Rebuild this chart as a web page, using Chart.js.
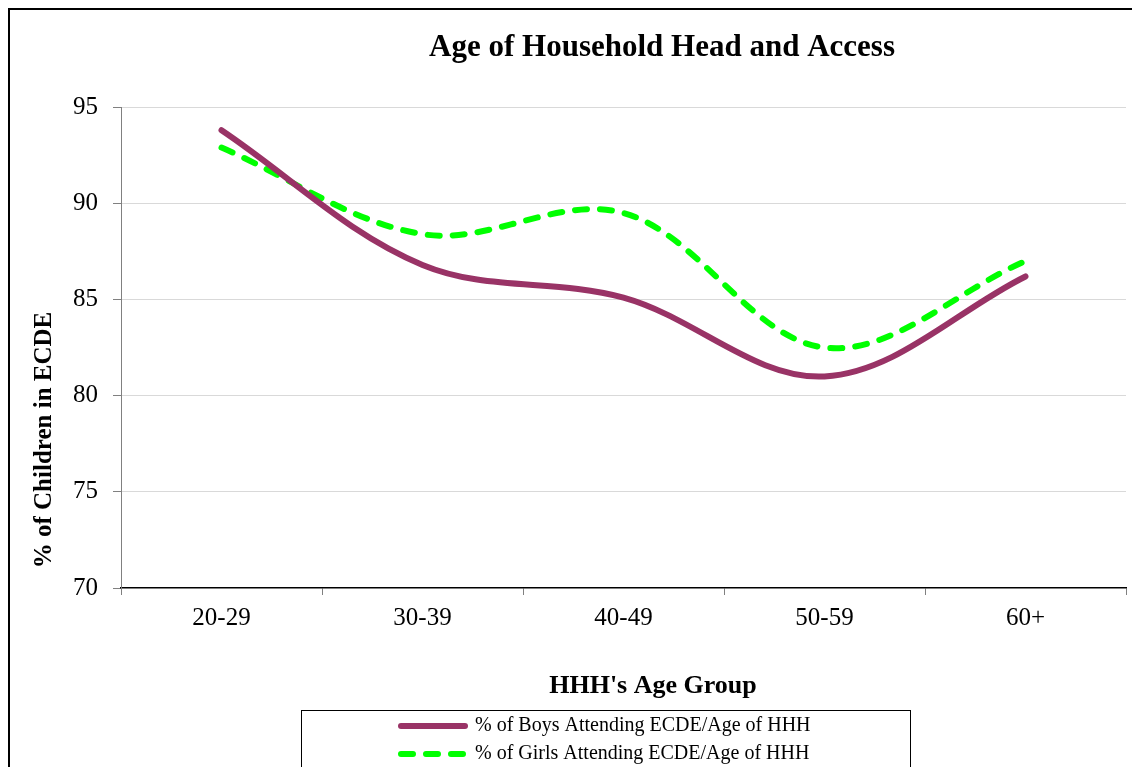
<!DOCTYPE html>
<html>
<head>
<meta charset="utf-8">
<title>Age of Household Head and Access</title>
<script src="https://cdn.jsdelivr.net/npm/chart.js@4.4.1/dist/chart.umd.min.js"></script>
<style>
  html, body { margin: 0; padding: 0; background: #fff; }
  .chart-box { position: relative; width: 1132px; height: 767px; }
</style>
</head>
<body>
<div class="chart-box">
  <canvas id="chart1"></canvas>
</div>
<script>
var ageGroups = ["20-29", "30-39", "40-49", "50-59", "60+"];
var boysValues = [93.8, 86.8, 85.1, 81.0, 86.2];
var girlsValues = [92.9, 88.4, 89.5, 82.5, 87.0];
var yTicks = [70, 75, 80, 85, 90, 95];

var xTitle = "HHH's Age Group";
var yTitle = '% of Children in ECDE';

var serif = '"Liberation Serif", "Times New Roman", serif';

// white page + the black frame on top / left
var framePlugin = {
  id: 'frame',
  afterLayout: function(chart) {
    // the title sits a little right of the page centre in the original
    var t = chart.titleBlock;
    if (t) { t.left = 662 - 320; t.right = 662 + 320; }
  },
  beforeDraw: function(chart) {
    var c = chart.ctx;
    c.save();
    c.fillStyle = '#fff';
    c.fillRect(0, 0, chart.width, chart.height);
    c.strokeStyle = '#000';
    c.lineWidth = 2;
    c.beginPath();
    c.moveTo(9, chart.height + 5);
    c.lineTo(9, 9);
    c.lineTo(chart.width + 5, 9);
    c.stroke();
    c.restore();
  }
};

// axis titles, placed where the original has them (not centred on the plot)
var axisTitles = {
  id: 'axisTitles',
  afterDraw: function(chart) {
    var c = chart.ctx;
    c.save();
    c.fillStyle = '#000';
    c.textAlign = 'center';
    c.textBaseline = 'middle';
    c.font = 'bold 26px ' + serif;
    c.fillText(xTitle, 653, 686);
    c.translate(45, 440);
    c.rotate(-Math.PI / 2);
    c.font = 'bold 25px ' + serif;
    c.fillText(yTitle, 0, 0);
    c.restore();
  }
};

// boxed legend, one row per series
var boxLegend = {
  id: 'boxLegend',
  afterDraw: function(chart) {
    var c = chart.ctx;
    c.save();
    c.strokeStyle = '#000';
    c.lineWidth = 1;
    c.strokeRect(301.5, 710.5, 609, 100);
    c.font = '20px ' + serif;
    c.textBaseline = 'middle';
    c.textAlign = 'left';
    chart.data.datasets.forEach(function(ds, i) {
      var y = 726 + i * 28;
      c.strokeStyle = ds.borderColor;
      c.lineWidth = ds.borderWidth;
      c.lineCap = 'round';
      c.setLineDash(ds.borderDash || []);
      c.beginPath();
      c.moveTo(401, y);
      c.lineTo(465, y);
      c.stroke();
      c.setLineDash([]);
      c.fillStyle = '#000';
      c.fillText(ds.label, 475, y);
    });
    c.restore();
  }
};

var ctx = document.getElementById('chart1').getContext('2d');
var myChart = new Chart(ctx, {
  type: 'line',
  data: {
    labels: ageGroups,
    datasets: [{
      label: '% of Boys Attending ECDE/Age of HHH',
      data: boysValues,
      borderColor: '#993366',
      backgroundColor: '#993366',
      borderWidth: 6,
      borderCapStyle: 'round',
      tension: 0.35,
      pointRadius: 0,
      fill: false
    },
    {
      label: '% of Girls Attending ECDE/Age of HHH',
      data: girlsValues,
      borderColor: '#00ff00',
      backgroundColor: '#00ff00',
      borderWidth: 6,
      borderDash: [12, 13],
      borderCapStyle: 'round',
      tension: 0.35,
      pointRadius: 0,
      fill: false
    }]
  },
  options: {
    responsive: true,
    maintainAspectRatio: false,
    animation: false,
    layout: {
      padding: { left: 10, right: 6, top: 10, bottom: 60 }
    },
    plugins: {
      legend: { display: false },
      tooltip: { enabled: false },
      title: {
        display: true,
        text: 'Age of Household Head and Access',
        color: '#000',
        font: { family: serif, size: 31, weight: 'bold' },
        padding: { top: 19, bottom: 41 }
      }
    },
    scales: {
      x: {
        offset: true,
        afterFit: function(scale) { scale.height = 119; },
        ticks: {
          color: '#000',
          padding: 8,
          font: { family: serif, size: 25 }
        },
        grid: {
          display: true,
          offset: true,
          drawOnChartArea: false,
          tickLength: 7,
          tickColor: '#808080'
        },
        border: { color: '#000', width: 1.5 },
        title: { display: false }
      },
      y: {
        min: yTicks[0],
        max: yTicks[yTicks.length - 1],
        afterFit: function(scale) { scale.width = 111; },
        afterBuildTicks: function(scale) {
          scale.ticks = yTicks.map(function(v) { return { value: v }; });
        },
        ticks: {
          color: '#000',
          padding: 15,
          font: { family: serif, size: 25 }
        },
        grid: {
          color: function(c) { return c.tick && c.tick.value === yTicks[0] ? 'rgba(0,0,0,0)' : '#d9d9d9'; },
          tickColor: '#808080',
          tickLength: 8
        },
        border: { color: '#808080', width: 1 },
        title: { display: false }
      }
    }
  },
  plugins: [framePlugin, axisTitles, boxLegend]
});
</script>
</body>
</html>
